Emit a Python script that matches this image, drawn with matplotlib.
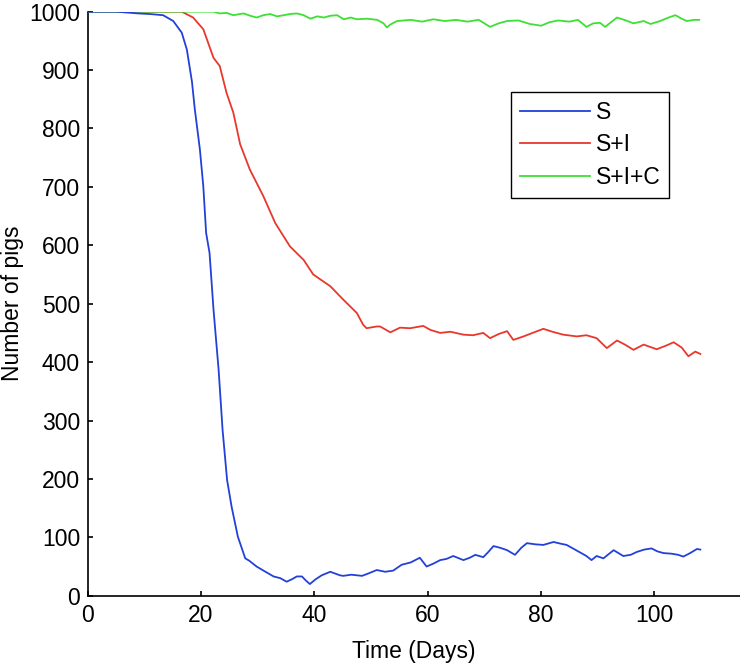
import matplotlib
matplotlib.use('Agg')
import matplotlib.pyplot as plt

plt.rcParams['font.family'] = ['Liberation Sans', 'DejaVu Sans']

# S curve (blue)
t_S = [0, 5, 9, 11, 13.3, 15.1, 16.6, 17.5, 18.4, 18.9,
       19.8, 20.4, 20.9, 21.5, 22.2, 23.1, 23.8, 24.6, 25.4, 26.5,
       27.8, 28.5, 29.8, 31.2, 32.8, 34.0, 35.1, 36.0, 36.9, 37.8,
       38.5, 39.2, 40.2, 41.3, 42.8, 44.5, 45.1, 46.5, 48.4, 49.5,
       51.0, 52.5, 53.9, 55.4, 57.0, 58.6, 59.8, 61.0, 62.2, 63.3,
       64.5, 66.3, 67.4, 68.4, 69.8, 70.7, 71.6, 72.8, 74.0, 75.4,
       76.5, 77.5, 79.0, 80.4, 82.2, 83.5, 84.5, 85.8, 86.9, 88.0,
       88.9, 89.8, 91.0, 92.8, 94.5, 95.8, 96.9, 98.2, 99.5, 100.5,
       101.6, 103.0, 104.2, 105.1, 106.3, 107.5, 108.1]
v_S = [1000, 1000, 997, 996, 994, 984, 964, 935, 880, 833,
       764, 701, 621, 587, 490, 387, 284, 198, 152, 101,
       64, 60, 50, 42, 33, 30, 24, 28, 33, 33,
       26, 20, 28, 35, 41, 35, 34, 36, 34, 38,
       44, 41, 43, 53, 57, 65, 50, 55, 61, 63,
       68, 61, 65, 70, 66, 75, 85, 82, 78, 70,
       82, 90, 88, 87, 92, 89, 87, 80, 74, 68,
       61, 68, 64, 78, 68, 70, 75, 79, 81, 76,
       73, 72, 70, 67, 73, 80, 79]

# S+I curve (red)
t_SI = [0, 10, 16.6, 18.6, 20.4, 22.2, 23.3, 24.5, 25.7, 26.9,
        28.6, 31.0, 33.1, 35.7, 38.1, 39.8, 42.8, 45.1, 47.5, 48.6,
        49.2, 51.0, 51.6, 53.4, 55.1, 56.9, 59.2, 60.5, 62.2, 64.0,
        66.3, 68.0, 69.8, 71.0, 72.5, 74.0, 75.1, 76.9, 78.5, 80.4,
        82.0, 83.9, 86.3, 88.0, 89.8, 91.6, 93.4, 94.8, 96.3, 98.1,
        100.4, 102.0, 103.4, 104.8, 106.0, 107.2, 108.1]
v_SI = [1000, 1000, 1000, 990, 970, 921, 907, 861, 827, 773,
        730, 684, 638, 598, 575, 550, 530, 507, 484, 464,
        458, 461, 461, 451, 459, 458, 462, 455, 450, 452,
        447, 446, 450, 441, 448, 453, 438, 444, 450, 457,
        452, 447, 444, 446, 441, 424, 437, 430, 421, 430,
        422, 428, 434, 425, 410, 418, 414]

# S+I+C curve (green)
t_SIC = [0, 20, 22.2, 23.3, 24.5, 25.7, 27.5, 28.7, 29.8, 31.0,
         32.2, 33.4, 34.6, 35.7, 36.9, 38.1, 39.3, 40.5, 41.7, 42.8,
         44.0, 45.2, 46.4, 47.5, 49.3, 51.1, 52.2, 52.8, 53.4, 54.6,
         57.0, 59.0, 61.0, 63.0, 65.0, 67.0, 69.0, 71.0, 72.5, 74.0,
         76.0, 78.0, 80.0, 81.5, 83.0, 85.0, 86.5, 88.0, 89.2, 90.4,
         91.3, 93.4, 95.0, 96.3, 98.1, 99.3, 101.0, 102.5, 103.7, 104.8,
         105.7, 107.0, 107.9]
v_SIC = [1000, 1000, 1000, 997, 998, 994, 997, 993, 990, 994,
         996, 992, 994, 996, 997, 994, 988, 992, 990, 993,
         994, 987, 990, 987, 988, 986, 980, 973, 978, 984,
         986, 983, 987, 984, 986, 983, 986, 974, 980, 984,
         985, 979, 976, 982, 985, 983, 986, 974, 980, 981,
         974, 990, 985, 980, 984, 979, 984, 990, 994, 988,
         984, 986, 986]

labels = ['S', 'S+I', 'S+I+C']
x_ticks = [0, 20, 40, 60, 80, 100]
y_ticks = list(range(0, 1001, 100))

fig = plt.figure(figsize=(7.4, 6.68), dpi=100)
ax = fig.add_axes([0.1185, 0.1082, 0.8815, 0.8743])

ax.plot(t_S, v_S, color='#2340d8', lw=1.3, label=labels[0], zorder=4)
ax.plot(t_SI, v_SI, color='#e8382c', lw=1.3, label=labels[1], zorder=2)
ax.plot(t_SIC, v_SIC, color='#3ee034', lw=1.3, label=labels[2], zorder=3)

ax.set_xlim(0, 115.1)
ax.set_ylim(0, 1000)
ax.set_xticks(x_ticks)
ax.set_yticks(y_ticks)

for s in ['top', 'right']:
    ax.spines[s].set_visible(False)
for s in ['left', 'bottom']:
    ax.spines[s].set_linewidth(1.2)

ax.tick_params(direction='in', length=3.6, width=1.2, labelsize=16.5)
ax.tick_params(axis='x', pad=6)
ax.tick_params(axis='y', pad=5.5)

ax.set_xlabel('Time (Days)', fontsize=16.5, va='center')
ax.set_ylabel('Number of pigs', fontsize=16.5, va='center')
ax.xaxis.set_label_coords(0.5, -0.0959)
ax.yaxis.set_label_coords(-0.116, 0.5)

leg = ax.legend(loc='upper left', bbox_to_anchor=(0.6485, 0.863), borderaxespad=0,
                fontsize=16.5, handlelength=3.05, handletextpad=0.25,
                labelspacing=0.42, borderpad=0.4, fancybox=False, framealpha=1)
leg.get_frame().set_edgecolor('black')
leg.get_frame().set_linewidth(1.0)

fig.savefig('out.png', dpi=100)
